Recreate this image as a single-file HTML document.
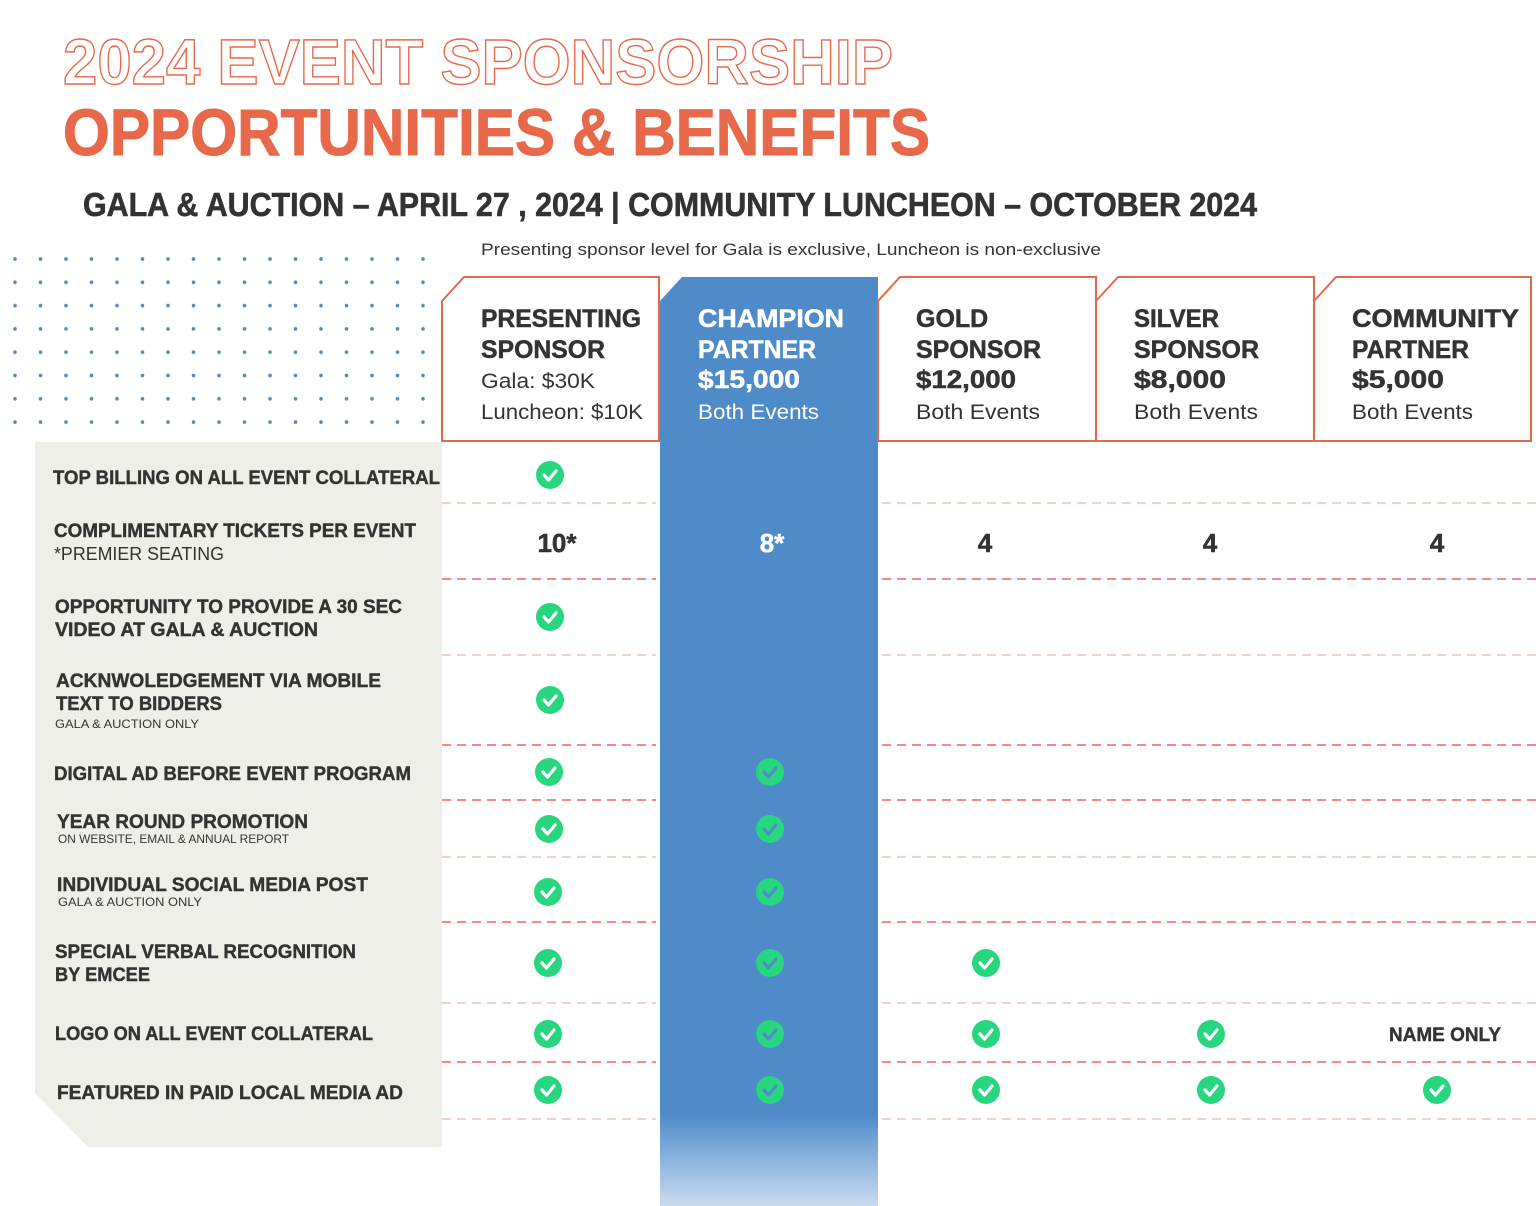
<!DOCTYPE html>
<html><head><meta charset="utf-8"><style>
html,body{margin:0;padding:0;background:#fff;}
svg{display:block;}
text{font-family:"Liberation Sans",sans-serif;}
</style></head><body>
<svg width="1536" height="1206" viewBox="0 0 1536 1206" xmlns="http://www.w3.org/2000/svg">
<defs>
<pattern id="dots" x="15" y="259" width="25.5" height="23.3" patternUnits="userSpaceOnUse">
<circle cx="0" cy="0" r="1.8" fill="#4f8bc9"/><circle cx="25.5" cy="0" r="1.8" fill="#4f8bc9"/><circle cx="0" cy="23.3" r="1.8" fill="#4f8bc9"/><circle cx="25.5" cy="23.3" r="1.8" fill="#4f8bc9"/>
</pattern>
<linearGradient id="fade" x1="0" y1="0" x2="0" y2="1">
<stop offset="0" stop-color="#4f8bc9"/><stop offset="1" stop-color="#c9dcf0"/>
</linearGradient>
<g id="ck"><circle r="14" fill="#27d67f"/><polyline points="-6,0 -1.5,5 6,-4" fill="none" stroke="#fff" stroke-width="3.2" stroke-linecap="round" stroke-linejoin="round"/></g>
<g id="ckb"><circle r="14" fill="#27d67f"/><polyline points="-6,0 -1.5,5 6,-4" fill="none" stroke="#4f8bc9" stroke-width="3.2" stroke-linecap="round" stroke-linejoin="round"/></g>
</defs>

<!-- Titles -->
<text x="63" y="84" font-size="64" font-weight="bold" fill="#fff" stroke="#e8684a" stroke-width="1.4" textLength="830" lengthAdjust="spacingAndGlyphs">2024 EVENT SPONSORSHIP</text>
<text x="63" y="155" font-size="66" font-weight="bold" fill="#e8684a" stroke="#e8684a" stroke-width="1" textLength="867" lengthAdjust="spacingAndGlyphs">OPPORTUNITIES &amp; BENEFITS</text>
<text x="83" y="216" font-size="33" font-weight="bold" fill="#333" stroke="#333" stroke-width="0.6" textLength="1174" lengthAdjust="spacingAndGlyphs">GALA &amp; AUCTION – APRIL 27 , 2024 | COMMUNITY LUNCHEON – OCTOBER 2024</text>
<text x="481" y="255" font-size="17" fill="#333" textLength="620" lengthAdjust="spacingAndGlyphs">Presenting sponsor level for Gala is exclusive, Luncheon is non-exclusive</text>

<!-- dots -->
<rect x="13" y="257" width="414" height="168" fill="url(#dots)"/>

<!-- gray panel -->
<polygon points="35,442 442,442 442,1147 88,1147 35,1093" fill="#efefea"/>

<!-- blue column -->
<polygon points="660,301 682,277 878,277 878,1115 660,1115" fill="#4f8bc9"/>
<rect x="660" y="1114" width="218" height="92" fill="url(#fade)"/>

<!-- header boxes -->
<g fill="#fff" stroke="#e8684a" stroke-width="2">
<polygon points="442,301 464,277 659,277 659,441 442,441"/>
<polygon points="878,301 900,277 1096,277 1096,441 878,441"/>
<polygon points="1096,301 1118,277 1314,277 1314,441 1096,441"/>
<polygon points="1314,301 1336,277 1531,277 1531,441 1314,441"/>
</g>

<g font-size="25" font-weight="bold" fill="#333" stroke="#333" stroke-width="0.5">
<text x="481" y="327" textLength="160" lengthAdjust="spacingAndGlyphs">PRESENTING</text>
<text x="481" y="358" textLength="124" lengthAdjust="spacingAndGlyphs">SPONSOR</text>
<text x="916" y="327">GOLD</text>
<text x="916" y="358" textLength="125" lengthAdjust="spacingAndGlyphs">SPONSOR</text>
<text x="916" y="388" textLength="100" lengthAdjust="spacingAndGlyphs">$12,000</text>
<text x="1134" y="327" textLength="85" lengthAdjust="spacingAndGlyphs">SILVER</text>
<text x="1134" y="358" textLength="125" lengthAdjust="spacingAndGlyphs">SPONSOR</text>
<text x="1134" y="388" textLength="92" lengthAdjust="spacingAndGlyphs">$8,000</text>
<text x="1352" y="327" textLength="167" lengthAdjust="spacingAndGlyphs">COMMUNITY</text>
<text x="1352" y="358" textLength="117" lengthAdjust="spacingAndGlyphs">PARTNER</text>
<text x="1352" y="388" textLength="92" lengthAdjust="spacingAndGlyphs">$5,000</text>
</g>
<g font-size="25" font-weight="bold" fill="#fff" stroke="#fff" stroke-width="0.5">
<text x="698" y="327" textLength="146" lengthAdjust="spacingAndGlyphs">CHAMPION</text>
<text x="698" y="358" textLength="118" lengthAdjust="spacingAndGlyphs">PARTNER</text>
<text x="698" y="388" textLength="102" lengthAdjust="spacingAndGlyphs">$15,000</text>
</g>
<g font-size="21" fill="#333">
<text x="481" y="388" textLength="114" lengthAdjust="spacingAndGlyphs">Gala: $30K</text>
<text x="481" y="419" textLength="162" lengthAdjust="spacingAndGlyphs">Luncheon: $10K</text>
<text x="916" y="419" textLength="124" lengthAdjust="spacingAndGlyphs">Both Events</text>
<text x="1134" y="419" textLength="124" lengthAdjust="spacingAndGlyphs">Both Events</text>
<text x="1352" y="419" textLength="121" lengthAdjust="spacingAndGlyphs">Both Events</text>
<text x="698" y="419" fill="#fff" textLength="121" lengthAdjust="spacingAndGlyphs">Both Events</text>
</g>

<!-- dashed lines -->
<g stroke-width="1.5" stroke-dasharray="9,6" fill="none">
<g stroke="#f6c0b8">
<path d="M442 503H656M882 503H1536"/>
<path d="M442 655H656M882 655H1536"/>
<path d="M442 857H656M882 857H1536"/>
<path d="M442 1003H656M882 1003H1536"/>
<path d="M442 1119H656M882 1119H1536"/>
</g>
<g stroke="#f0645a">
<path d="M442 579H656M882 579H1536"/>
<path d="M442 745H656M882 745H1536"/>
<path d="M442 800H656M882 800H1536"/>
<path d="M442 922H656M882 922H1536"/>
<path d="M442 1062H656M882 1062H1536"/>
</g>
</g>

<!-- row labels -->
<g font-size="19" font-weight="bold" fill="#333" stroke="#333" stroke-width="0.4">
<text x="53" y="484" textLength="387" lengthAdjust="spacingAndGlyphs">TOP BILLING ON ALL  EVENT COLLATERAL</text>
<text x="54" y="537" textLength="362" lengthAdjust="spacingAndGlyphs">COMPLIMENTARY TICKETS PER EVENT</text>
<text x="55" y="613" textLength="347" lengthAdjust="spacingAndGlyphs">OPPORTUNITY TO PROVIDE A 30 SEC</text>
<text x="55" y="636" textLength="263" lengthAdjust="spacingAndGlyphs">VIDEO AT GALA &amp; AUCTION</text>
<text x="56" y="687" textLength="325" lengthAdjust="spacingAndGlyphs">ACKNWOLEDGEMENT VIA MOBILE</text>
<text x="56" y="710" textLength="166" lengthAdjust="spacingAndGlyphs">TEXT TO BIDDERS</text>
<text x="54" y="780" textLength="357" lengthAdjust="spacingAndGlyphs">DIGITAL AD BEFORE EVENT PROGRAM</text>
<text x="57" y="828" textLength="251" lengthAdjust="spacingAndGlyphs">YEAR ROUND PROMOTION</text>
<text x="57" y="891" textLength="311" lengthAdjust="spacingAndGlyphs">INDIVIDUAL SOCIAL MEDIA POST</text>
<text x="55" y="958" textLength="301" lengthAdjust="spacingAndGlyphs">SPECIAL VERBAL RECOGNITION</text>
<text x="55" y="981" textLength="95" lengthAdjust="spacingAndGlyphs">BY EMCEE</text>
<text x="55" y="1040" textLength="318" lengthAdjust="spacingAndGlyphs">LOGO ON ALL EVENT COLLATERAL</text>
<text x="57" y="1099" textLength="346" lengthAdjust="spacingAndGlyphs">FEATURED IN PAID LOCAL MEDIA AD</text>
<text x="1389" y="1041" textLength="112" lengthAdjust="spacingAndGlyphs">NAME ONLY</text>
</g>
<g fill="#333">
<text x="54" y="560" font-size="18" textLength="170" lengthAdjust="spacingAndGlyphs">*PREMIER SEATING</text>
<text x="55" y="728" font-size="12" textLength="144" lengthAdjust="spacingAndGlyphs">GALA &amp; AUCTION ONLY</text>
<text x="58" y="843" font-size="12" textLength="231" lengthAdjust="spacingAndGlyphs">ON WEBSITE, EMAIL &amp; ANNUAL REPORT</text>
<text x="58" y="906" font-size="12" textLength="144" lengthAdjust="spacingAndGlyphs">GALA &amp; AUCTION ONLY</text>
</g>

<!-- numbers -->
<g font-size="26" font-weight="bold" fill="#333" stroke="#333" stroke-width="0.5" text-anchor="middle">
<text x="557" y="552">10*</text>
<text x="772" y="552" fill="#fff" stroke="#fff">8*</text>
<text x="985" y="552">4</text>
<text x="1210" y="552">4</text>
<text x="1437" y="552">4</text>
</g>

<!-- checks col1 -->
<use href="#ck" x="550" y="475"/>
<use href="#ck" x="550" y="617"/>
<use href="#ck" x="550" y="700"/>
<use href="#ck" x="549" y="772"/>
<use href="#ck" x="549" y="829"/>
<use href="#ck" x="548" y="892"/>
<use href="#ck" x="548" y="963"/>
<use href="#ck" x="548" y="1034"/>
<use href="#ck" x="548" y="1090"/>
<!-- col2 -->
<use href="#ckb" x="770" y="772"/>
<use href="#ckb" x="770" y="829"/>
<use href="#ckb" x="770" y="892"/>
<use href="#ckb" x="770" y="963"/>
<use href="#ckb" x="770" y="1034"/>
<use href="#ckb" x="770" y="1090"/>
<!-- col3 -->
<use href="#ck" x="986" y="963"/>
<use href="#ck" x="986" y="1034"/>
<use href="#ck" x="986" y="1090"/>
<!-- col4 -->
<use href="#ck" x="1211" y="1034"/>
<use href="#ck" x="1211" y="1090"/>
<!-- col5 -->
<use href="#ck" x="1437" y="1090"/>
</svg>
</body></html>
